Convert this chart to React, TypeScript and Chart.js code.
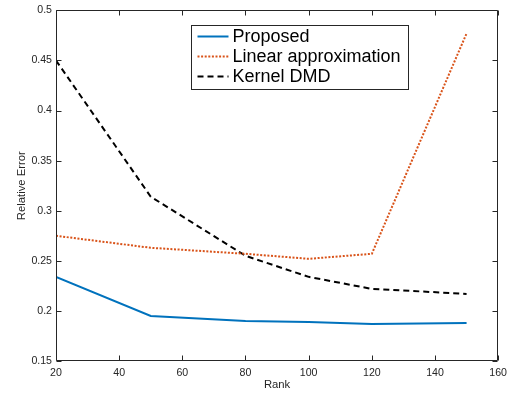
import React, { useEffect, useRef } from "react";
import { Chart, registerables } from "chart.js";

Chart.register(...registerables);

const ranks = [20, 50, 80, 100, 120, 150];
const proposed = [0.234, 0.195, 0.19, 0.189, 0.187, 0.188];
const linearApprox = [0.275, 0.263, 0.257, 0.252, 0.257, 0.477];
const kernelDmd = [0.45, 0.314, 0.255, 0.234, 0.222, 0.217];
const xTicks = [20, 40, 60, 80, 100, 120, 140, 160];
const yTicks = [0.15, 0.2, 0.25, 0.3, 0.35, 0.4, 0.45, 0.5];
const seriesNames = ["Proposed", "Linear approximation", "Kernel DMD"];
const seriesColors = ["#0072BD", "#D95319", "#000000"];
const seriesDashes: number[][] = [[], [2, 1.6], [6, 4]];

const FONT = "'Liberation Sans', Arial, Helvetica, sans-serif";
const AXIS = "#262626";

const toPoints = (vals: number[]) => ranks.map((r, i) => ({ x: r, y: vals[i] }));

const boxPlugin = {
  id: "boxPlugin",
  afterDraw(chart: any) {
    const { ctx, chartArea, scales } = chart;
    const { left, right, top, bottom } = chartArea;
    const xs = scales.x;
    const ys = scales.y;
    ctx.save();
    ctx.strokeStyle = AXIS;
    ctx.lineWidth = 1;
    const L = Math.round(left) + 0.5;
    const R = Math.round(right) - 0.5;
    const T = Math.round(top) + 0.5;
    const B = Math.round(bottom) - 0.5;
    ctx.beginPath();
    ctx.rect(L, T, R - L, B - T);
    ctx.stroke();
    const tl = 5;
    ctx.beginPath();
    xTicks.forEach((v) => {
      const px = Math.round(xs.getPixelForValue(v)) + 0.5;
      ctx.moveTo(px, B);
      ctx.lineTo(px, B - tl);
      ctx.moveTo(px, T);
      ctx.lineTo(px, T + tl);
    });
    yTicks.forEach((v) => {
      const py = Math.round(ys.getPixelForValue(v)) + 0.5;
      ctx.moveTo(L, py);
      ctx.lineTo(L + tl, py);
      ctx.moveTo(R, py);
      ctx.lineTo(R - tl, py);
    });
    ctx.stroke();

    // legend
    const lx = Math.round(left + 135) + 0.5;
    const ly = Math.round(top + 15) + 0.5;
    const lw = 217;
    const lh = 64;
    ctx.fillStyle = "#ffffff";
    ctx.fillRect(lx, ly, lw, lh);
    ctx.strokeStyle = AXIS;
    ctx.lineWidth = 1;
    ctx.strokeRect(lx, ly, lw, lh);
    ctx.font = `18px ${FONT}`;
    ctx.textBaseline = "middle";
    ctx.textAlign = "left";
    seriesNames.forEach((name, i) => {
      const cy = ly + 11 + i * 20;
      ctx.save();
      ctx.strokeStyle = seriesColors[i];
      ctx.lineWidth = 2;
      ctx.setLineDash(seriesDashes[i]);
      ctx.beginPath();
      ctx.moveTo(lx + 6, cy);
      ctx.lineTo(lx + 37, cy);
      ctx.stroke();
      ctx.restore();
      ctx.fillStyle = "#000000";
      ctx.fillText(name, lx + 41, cy + 1);
    });
    ctx.restore();
  },
};

export default function App() {
  const ref = useRef<HTMLCanvasElement | null>(null);
  useEffect(() => {
    document.body.style.margin = "0";
    const canvas = ref.current;
    if (!canvas) return;
    const chart = new Chart(canvas, {
      type: "line",
      data: {
        datasets: seriesNames.map((name, i) => ({
          label: name,
          data: toPoints([proposed, linearApprox, kernelDmd][i]),
          borderColor: seriesColors[i],
          backgroundColor: seriesColors[i],
          borderWidth: 2,
          borderDash: seriesDashes[i],
          pointRadius: 0,
          tension: 0,
          fill: false,
        })),
      },
      options: {
        animation: false,
        responsive: false,
        devicePixelRatio: 1,
        layout: { padding: { top: 10, right: 11, left: 0, bottom: 0 } },
        plugins: { legend: { display: false }, tooltip: { enabled: false } },
        scales: {
          x: {
            type: "linear",
            min: 20,
            max: 160,
            grid: { display: false, drawTicks: false },
            border: { display: false },
            afterBuildTicks: (s: any) => {
              s.ticks = xTicks.map((v) => ({ value: v }));
            },
            afterFit: (s: any) => {
              s.height = 33;
            },
            ticks: {
              padding: 6,
              color: AXIS,
              font: { family: FONT, size: 10.6 },
              maxRotation: 0,
              callback: (v: any) => String(v),
            },
            title: {
              display: true,
              text: "Rank",
              color: AXIS,
              font: { family: FONT, size: 11.3 },
              padding: { top: 0, bottom: 2 },
            },
          },
          y: {
            type: "linear",
            min: 0.15,
            max: 0.5,
            grid: { display: false, drawTicks: false },
            border: { display: false },
            afterBuildTicks: (s: any) => {
              s.ticks = yTicks.map((v) => ({ value: v }));
            },
            afterFit: (s: any) => {
              s.width = 56;
            },
            ticks: {
              padding: 4,
              color: AXIS,
              font: { family: FONT, size: 10.6 },
              callback: (v: any) => String(parseFloat(Number(v).toFixed(2))),
            },
            title: {
              display: true,
              text: "Relative Error",
              color: AXIS,
              font: { family: FONT, size: 11.3 },
              padding: { top: 15, bottom: 0 },
            },
          },
        },
      },
      plugins: [boxPlugin],
    } as any);
    return () => chart.destroy();
  }, []);
  return (
    <div style={{ position: "absolute", left: 0, top: 0, width: 513, height: 394 }}>
      <canvas ref={ref} width={513} height={394} />
    </div>
  );
}
